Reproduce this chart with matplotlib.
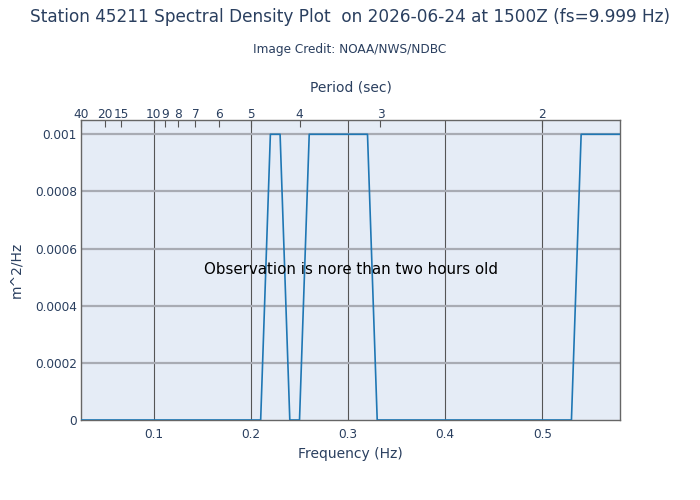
import numpy as np
import matplotlib
matplotlib.use("Agg")
import matplotlib.pyplot as plt

# data (breakpoints of the spectrum)
freq = [0.025, 0.21, 0.22, 0.23, 0.24, 0.25, 0.26, 0.32, 0.33, 0.53, 0.54, 0.58]
density = [0, 0, 0.001, 0.001, 0, 0, 0.001, 0.001, 0, 0, 0.001, 0.001]

freq_ticks = [0.1, 0.2, 0.3, 0.4, 0.5]
y_ticks = [0, 0.0002, 0.0004, 0.0006, 0.0008, 0.001]
y_labels = ["0", "0.0002", "0.0004", "0.0006", "0.0008", "0.001"]
periods = [40, 20, 15, 10, 9, 8, 7, 6, 5, 4, 3, 2]

txt = "#2a3f5f"
plt.rcParams['font.family'] = ['DejaVu Sans']

fig = plt.figure(figsize=(7, 5), dpi=100)
ax = fig.add_axes([81 / 700, 80 / 500, 539 / 700, 300 / 500])
ax.set_facecolor("#e5ecf6")

ax.plot(freq, density, color="#1f77b4", lw=1.2, zorder=3)

ax.set_xlim(0.025, 0.58)
ax.set_ylim(0, 0.00105)

ax.set_xticks(freq_ticks)
ax.set_xticklabels([str(f) for f in freq_ticks])
ax.set_yticks(y_ticks)
ax.set_yticklabels(y_labels)
ax.tick_params(colors=txt, labelsize=8.7, length=0)
ax.tick_params(axis="x", pad=6)
ax.tick_params(axis="y", pad=3)

for f in freq_ticks:
    ax.axvline(f, color="#555555", lw=0.8, zorder=1)
for y in y_ticks[1:]:
    ax.axhline(y, color="#a8abb3", lw=1.6, zorder=1)

for s in ax.spines.values():
    s.set_color("#666666")
    s.set_linewidth(1.0)

ax.set_xlabel("Frequency (Hz)", color=txt, fontsize=10, labelpad=4)
ax.set_ylabel("m^2/Hz", color=txt, fontsize=10, labelpad=8)

# top axis in period
top = ax.secondary_xaxis("top")
top.set_xticks([1 / p for p in periods])
top.set_xticklabels([str(p) for p in periods])
top.tick_params(direction="in", length=5, colors="#555555", labelcolor=txt,
                labelsize=8.7, pad=-1)
top.spines["top"].set_visible(False)
top.set_xlabel("Period (sec)", color=txt, fontsize=10, labelpad=12)

ax.text(0.5, 0.5, "Observation is nore than two hours old",
        transform=ax.transAxes, ha="center", va="center",
        fontsize=10.8, color="black")

fig.text(0.5, 1 - 17 / 500, "Station 45211 Spectral Density Plot  on 2026-06-24 at 1500Z (fs=9.999 Hz)",
         ha="center", va="center", fontsize=12.2, color=txt)
fig.text(0.5, 1 - 50 / 500, "Image Credit: NOAA/NWS/NDBC",
         ha="center", va="center", fontsize=8.7, color=txt)

fig.savefig("out.png", dpi=100)
